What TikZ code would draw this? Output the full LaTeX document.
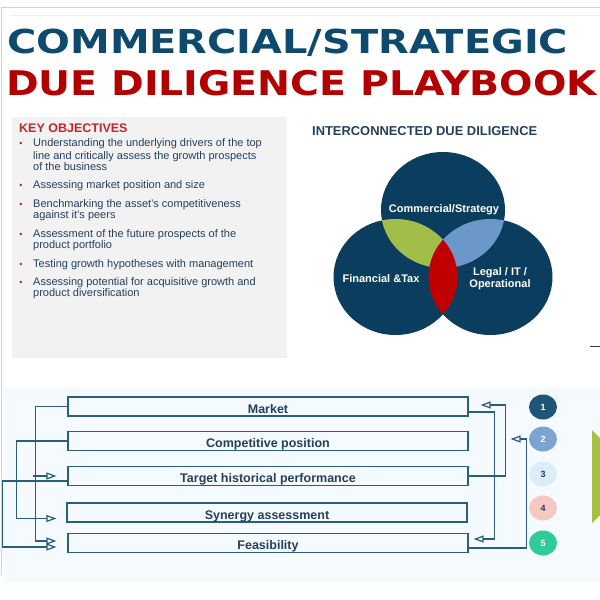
\documentclass[tikz,border=0pt]{standalone}
\usepackage{fontspec}
\setmainfont{Liberation Sans}
\newfontfamily\titlefont{DejaVu Sans}
\usepackage{graphicx}
\usetikzlibrary{arrows.meta,shapes.geometric}
\definecolor{ddtitle}{HTML}{0E4A6E}
\definecolor{ddred}{HTML}{B30000}
\definecolor{objred}{HTML}{C4262B}
\definecolor{txtnavy}{HTML}{243F5C}
\definecolor{ddnavy}{HTML}{0B3E5E}
\definecolor{ddgreen}{HTML}{A2BE48}
\definecolor{ddsky}{HTML}{6B98C9}
\definecolor{lensred}{HTML}{C00000}
\definecolor{ddline}{HTML}{2A5E7E}
\definecolor{panelgray}{HTML}{F2F2F2}
\definecolor{panelblue}{HTML}{F5FAFE}
\definecolor{n1}{HTML}{1E5676}
\definecolor{n2}{HTML}{7BA4D2}
\definecolor{n3}{HTML}{DCEDF9}
\definecolor{n4}{HTML}{F5C8C2}
\definecolor{n5}{HTML}{30CC98}
\definecolor{chevgreen}{HTML}{A4C03E}

\begin{document}
\begin{tikzpicture}[x=1pt,y=-1pt,
  ddbox/.style={draw=ddline,line width=1.2pt,minimum width=400pt,minimum height=19pt,inner sep=0pt,text height=13pt,text depth=0pt,font=\fontsize{12.5}{14}\selectfont\bfseries,text=txtnavy},
  numdot/.style={ellipse,minimum width=28pt,minimum height=25pt,inner sep=0pt,font=\fontsize{9}{10}\selectfont\bfseries},
  conn/.style={draw=ddline,line width=1.2pt},
  tipto/.style={conn,-{Triangle[open,length=10pt,width=7pt]}},
  objtext/.style={anchor=base west,inner sep=0pt,text=txtnavy,font=\fontsize{11}{12}\selectfont},
  vennlabel/.style={text=white,font=\fontsize{11}{12}\selectfont\bfseries,inner sep=0pt}]
  \useasboundingbox (0,0) rectangle (600,600);
  % frame
  \draw[gray!35,line width=1pt] (1.5,575) -- (1.5,7) -- (600,7);
  \draw[gray!12,line width=1pt] (10,15) -- (600,15);
  % title
  \node[anchor=base west,inner sep=0pt,text=ddtitle] (title1) at (7,53)
    {\resizebox{561pt}{\height}{\titlefont\bfseries\fontsize{33}{33}\selectfont COMMERCIAL/STRATEGIC}};
  \node[anchor=base west,inner sep=0pt,text=ddred] (title2) at (6,95)
    {\resizebox{591pt}{\height}{\titlefont\bfseries\fontsize{34}{34}\selectfont DUE DILIGENCE PLAYBOOK}};

  % key objectives
  \fill[panelgray] (12,117) rectangle (287,358);
  \node[anchor=base west,inner sep=0pt,text=objred,font=\fontsize{12.5}{13}\selectfont\bfseries] (keyobj) at (19,132) {KEY OBJECTIVES};
  \foreach \yy in {146,188,207,237,267,285}
    \node[anchor=base,inner sep=0pt,text=objred,font=\fontsize{9}{10}\selectfont] at (21,\yy) {•};
  \foreach \yy/\txt in {146/Understanding the underlying drivers of the top,
      159/line and critically assess the growth prospects,
      170/of the business,
      188/Assessing market position and size,
      207/Benchmarking the asset's competitiveness,
      218/against it's peers,
      237/Assessment of the future prospects of the,
      248/product portfolio,
      267/Testing growth hypotheses with management,
      285/Assessing potential for acquisitive growth and,
      296/product diversification}
    \node[objtext] at (33,\yy) {\txt};

  % venn
  \node[anchor=base west,inner sep=0pt,text=txtnavy,font=\fontsize{12.9}{13}\selectfont\bfseries] (venntitle) at (312,135.5) {INTERCONNECTED DUE DILIGENCE};
  \coordinate (ctop) at (443,210);
  \coordinate (cleft) at (395.5,277);
  \coordinate (cright) at (490.5,277);
  \foreach \c in {ctop,cleft,cright}
    \fill[ddnavy] (\c) ellipse [x radius=62pt,y radius=58pt];
  \begin{scope}
    \clip (ctop) ellipse [x radius=62pt,y radius=58pt];
    \fill[ddgreen] (cleft) ellipse [x radius=62pt,y radius=58pt];
    \fill[ddsky] (cright) ellipse [x radius=62pt,y radius=58pt];
  \end{scope}
  \begin{scope}
    \clip (cleft) ellipse [x radius=62pt,y radius=58pt];
    \fill[lensred] (cright) ellipse [x radius=62pt,y radius=58pt];
  \end{scope}
  \node[vennlabel,anchor=base] (lblcom) at (444,212.5) {Commercial/Strategy};
  \node[vennlabel,anchor=base] (lblfin) at (381,282) {Financial \&Tax};
  \node[vennlabel,anchor=base] (lbllegal) at (500,275) {Legal / IT /};
  \node[vennlabel,anchor=base] (lblops) at (500,287) {Operational};
  \draw[black!80,line width=1pt] (590,346) -- (600,346);

  % workstreams
  \fill[panelblue] (3,387) rectangle (600,582);
  \node[ddbox] (mkt) at (268,406.5) {Market};
  \node[ddbox] (comp) at (268,441) {Competitive position};
  \node[ddbox] (tgt) at (268,476) {Target historical performance};
  \node[ddbox] (syn) at (267,512.5) {Synergy assessment};
  \node[ddbox] (feas) at (268,543) {Feasibility};

  \draw[tipto,shorten >=11pt] (mkt.west) -- ++(-32,0) coordinate (mleft) |- ([yshift=2pt]feas.west);
  \draw[tipto,shorten >=11pt,shorten <=-2pt] (mleft |- tgt.west) -- (tgt.west);
  \draw[tipto,shorten >=10pt] (comp.west) -- ++(-51,0) |- ([yshift=-6pt]syn.west);
  \draw[tipto,shorten >=11pt] ([yshift=-5pt]tgt.west) -- ++(-65,0) |- ([yshift=-4pt]feas.west);

  \draw[tipto,shorten >=5pt] ([yshift=-5.5pt]mkt.east) -- ++(26,0) |- ([yshift=4pt]feas.east);
  \draw[tipto,shorten >=12pt] (tgt.east) -- ++(37,0) |- ([yshift=1.5pt]mkt.east);
  \draw[tipto,shorten >=42pt] ([yshift=-5pt]feas.east) -- ++(58,0) |- ([yshift=2pt]comp.east);

  \foreach \yy/\col/\tc/\n in {407/n1/white/1,439/n2/white/2,474/n3/txtnavy/3,508/n4/txtnavy/4,543/n5/white/5}
    \node[numdot,fill=\col,text=\tc] (num\n) at (543,\yy) {\n};
  \fill[chevgreen] (592,430) -- (600,438) -- (600,515) -- (592,523) -- cycle;
\end{tikzpicture}
\end{document}
